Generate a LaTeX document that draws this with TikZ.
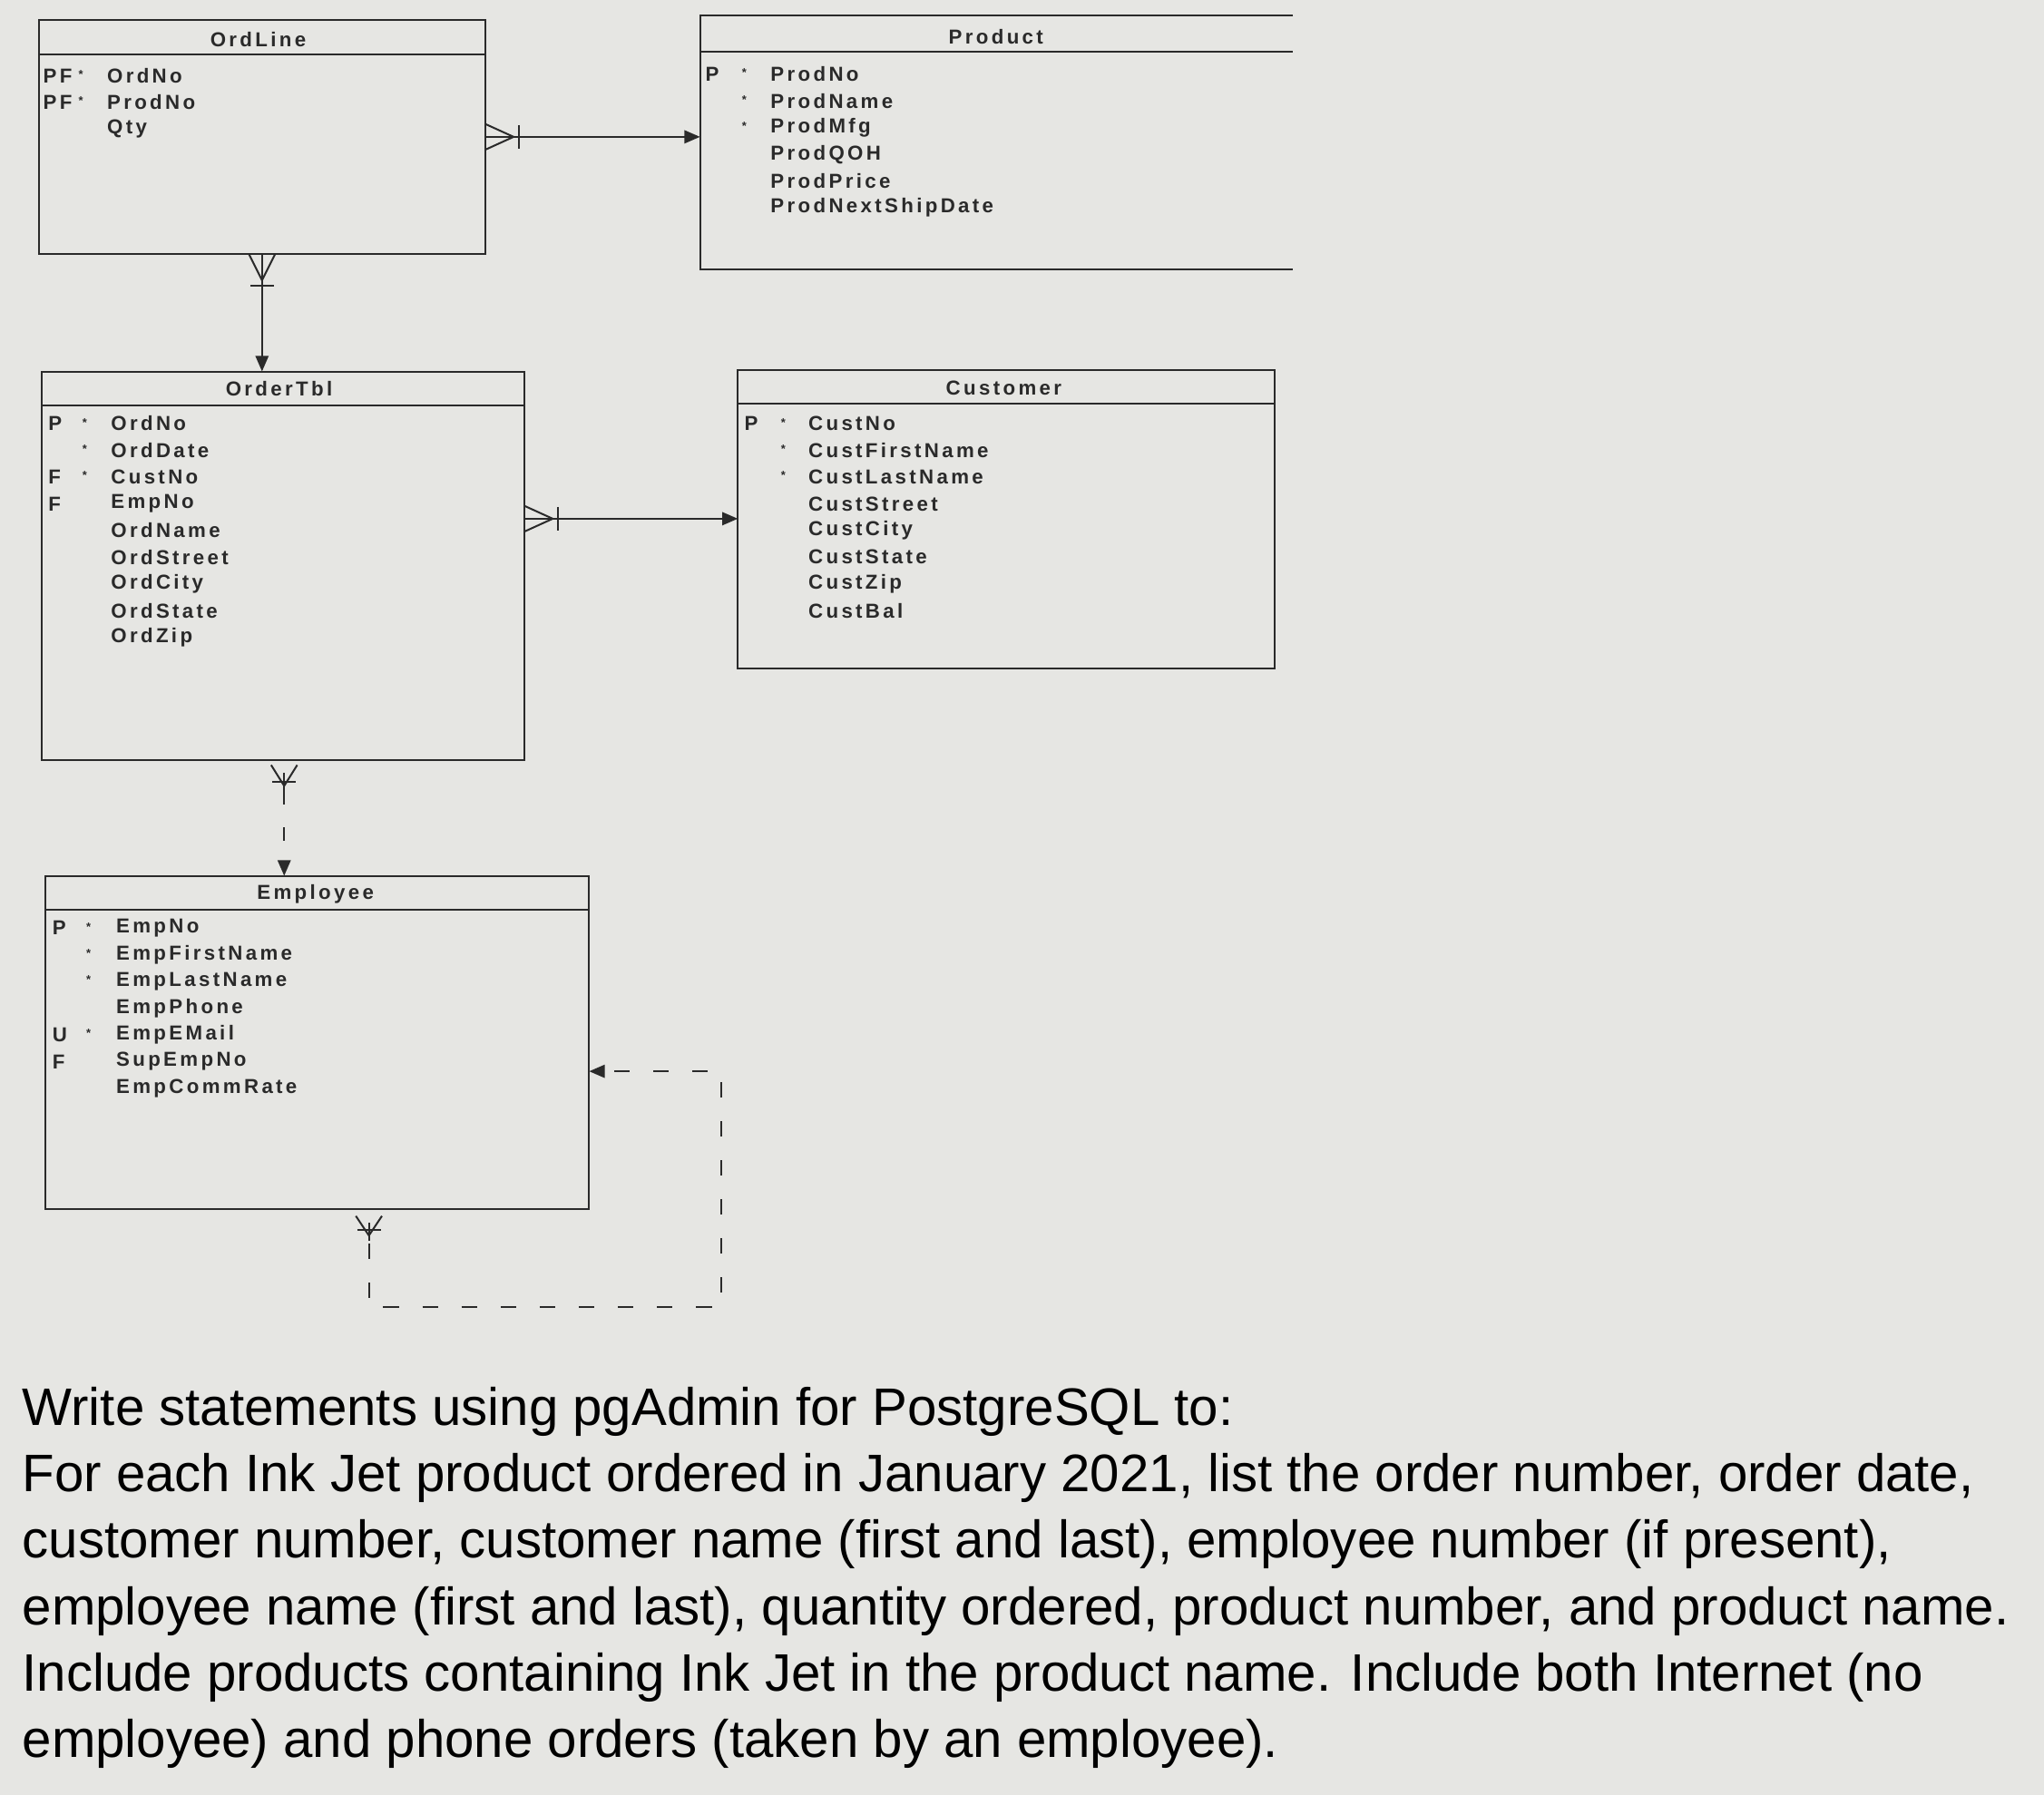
\documentclass[tikz,border=0pt]{standalone}
\usepackage{fontspec}
\setmainfont{Liberation Sans}
\newfontfamily\fldfont[LetterSpace=15]{Liberation Sans}
\usetikzlibrary{calc,arrows.meta}
\definecolor{bg}{HTML}{E6E6E3}
\definecolor{ink}{HTML}{2A2A2A}
\tikzset{
 ent/.style={draw=ink,line width=1.4pt},
 ttl/.style={font=\fldfont\fontsize{15.5}{15}\selectfont\bfseries,text=ink,inner sep=0pt},
 fld/.style={font=\fldfont\fontsize{15.5}{15}\selectfont\bfseries,text=ink,anchor=west,inner sep=0pt},
 rel/.style={draw=ink,line width=1.4pt},
 reltip/.style={-{Triangle[length=12pt,width=10pt]}},
}
\newcommand\boxrows[6]{% xp xd xn y0 list name
 \foreach \p/\d/\n [count=\i] in {#5} {
  \node[fld] (#6p\i) at (#1,{#4+20.5*(\i-1)}) {\p};
  \node[fld] (#6d\i) at (#2,{#4+20.5*(\i-1)}) {\d};
  \node[fld] (#6n\i) at (#3,{#4+20.5*(\i-1)}) {\n};
 }}
\newcommand\mk{\raisebox{2pt}{\fontsize{9}{9}\selectfont *}}
\begin{document}
\begin{tikzpicture}[x=1pt,y=-1pt]
\fill[bg] (0,0) rectangle (1568,1377);
\useasboundingbox (0,0) rectangle (1568,1377);
% OrdLine
\draw[ent] (30,15) rectangle (372,195); \draw[ent] (30,42)--(372,42);
\node[ttl] (t1) at (198,30) {OrdLine};
\boxrows{33}{60}{82}{58}{PF/\mk/OrdNo,PF/\mk/ProdNo,{}/{}/Qty}{a}
% Product
\draw[ent] (992,12)--(537,12)--(537,207)--(992,207); \draw[ent] (537,40)--(992,40);
\node[ttl] (t2) at (764,28) {Product};
\boxrows{541}{569}{591}{57}{P/\mk/ProdNo,{}/\mk/ProdName,{}/\mk/ProdMfg,{}/{}/ProdQOH,{}/{}/ProdPrice,{}/{}/ProdNextShipDate}{b}
% OrderTbl
\draw[ent] (32,285) rectangle (402,583); \draw[ent] (32,311)--(402,311);
\node[ttl] (t3) at (214,298) {OrderTbl};
\boxrows{37}{63}{85}{325}{P/\mk/OrdNo,{}/\mk/OrdDate,F/\mk/CustNo,F/{}/EmpNo,{}/{}/OrdName,{}/{}/OrdStreet,{}/{}/OrdCity,{}/{}/OrdState,{}/{}/OrdZip}{c}
% Customer
\draw[ent] (566,284) rectangle (978,513); \draw[ent] (566,310)--(978,310);
\node[ttl] (t4) at (770,298) {Customer};
\boxrows{571}{599}{620}{325}{P/\mk/CustNo,{}/\mk/CustFirstName,{}/\mk/CustLastName,{}/{}/CustStreet,{}/{}/CustCity,{}/{}/CustState,{}/{}/CustZip,{}/{}/CustBal}{d}
% Employee
\draw[ent] (35,672) rectangle (452,928); \draw[ent] (35,698)--(452,698);
\node[ttl] (t5) at (242,686) {Employee};
\boxrows{40}{66}{89}{712}{P/\mk/EmpNo,{}/\mk/EmpFirstName,{}/\mk/EmpLastName,{}/{}/EmpPhone,U/\mk/EmpEMail,F/{}/SupEmpNo,{}/{}/EmpCommRate}{e}
% connector 1
\coordinate (s1) at (372,105); \coordinate (e1) at (537,105);
\draw[rel,reltip] (s1)--(e1);
\draw[rel] ($(s1)+(0,-10)$)--($(s1)+(22,0)$)--($(s1)+(0,10)$); \draw[rel] ($(s1)+(26,-9)$)--($(s1)+(26,9)$);
% connector 2
\coordinate (s2) at (201,195); \coordinate (e2) at (201,285);
\draw[rel,reltip] (s2)--(e2);
\draw[rel] ($(s2)+(-10,0)$)--($(s2)+(0,20)$)--($(s2)+(10,0)$); \draw[rel] ($(s2)+(-9,24)$)--($(s2)+(9,24)$);
% connector 3
\coordinate (s3) at (402,398); \coordinate (e3) at (566,398);
\draw[rel,reltip] (s3)--(e3);
\draw[rel] ($(s3)+(0,-10)$)--($(s3)+(22,0)$)--($(s3)+(0,10)$); \draw[rel] ($(s3)+(26,-9)$)--($(s3)+(26,9)$);
% connector 4 (dashed)
\coordinate (s4) at (218,583); \coordinate (e4) at (218,672);
\draw[rel,dashed,dash pattern=on 10pt off 18pt,reltip] ($(s4)+(0,24)$)--(e4);
\draw[rel] ($(s4)+(0,10)$)--($(s4)+(0,24)$);
\draw[rel] ($(s4)+(-10,4)$)--($(s4)+(0,20)$)--($(s4)+(10,4)$); \draw[rel] ($(s4)+(-9,17)$)--($(s4)+(9,17)$);
% self loop
\coordinate (s5) at (283,928); \coordinate (c5a) at (283,1003); \coordinate (c5b) at (553,1003); \coordinate (c5c) at (553,822); \coordinate (e5) at (452,822);
\draw[rel,dashed,dash pattern=on 12pt off 18pt,reltip] ($(s5)+(0,26)$)--(c5a)--(c5b)--(c5c)--(e5);
\draw[rel] ($(s5)+(-10,5)$)--($(s5)+(0,20)$)--($(s5)+(10,5)$); \draw[rel] ($(s5)+(-9,16)$)--($(s5)+(9,16)$);
\draw[rel] ($(s5)+(0,10)$)--($(s5)+(0,24)$);
% question text
\node[anchor=north west,align=left,inner sep=0pt,text=black,font=\fontsize{40.5}{51}\selectfont] (q) at (17,1064) {Write statements using pgAdmin for PostgreSQL to:\\
For each Ink Jet product ordered in January 2021, list the order number, order date,\\
customer number, customer name (first and last), employee number (if present),\\
employee name (first and last), quantity ordered, product number, and product name.\\
Include products containing Ink Jet in the product name. Include both Internet (no\\
employee) and phone orders (taken by an employee).};
\end{tikzpicture}
\end{document}
